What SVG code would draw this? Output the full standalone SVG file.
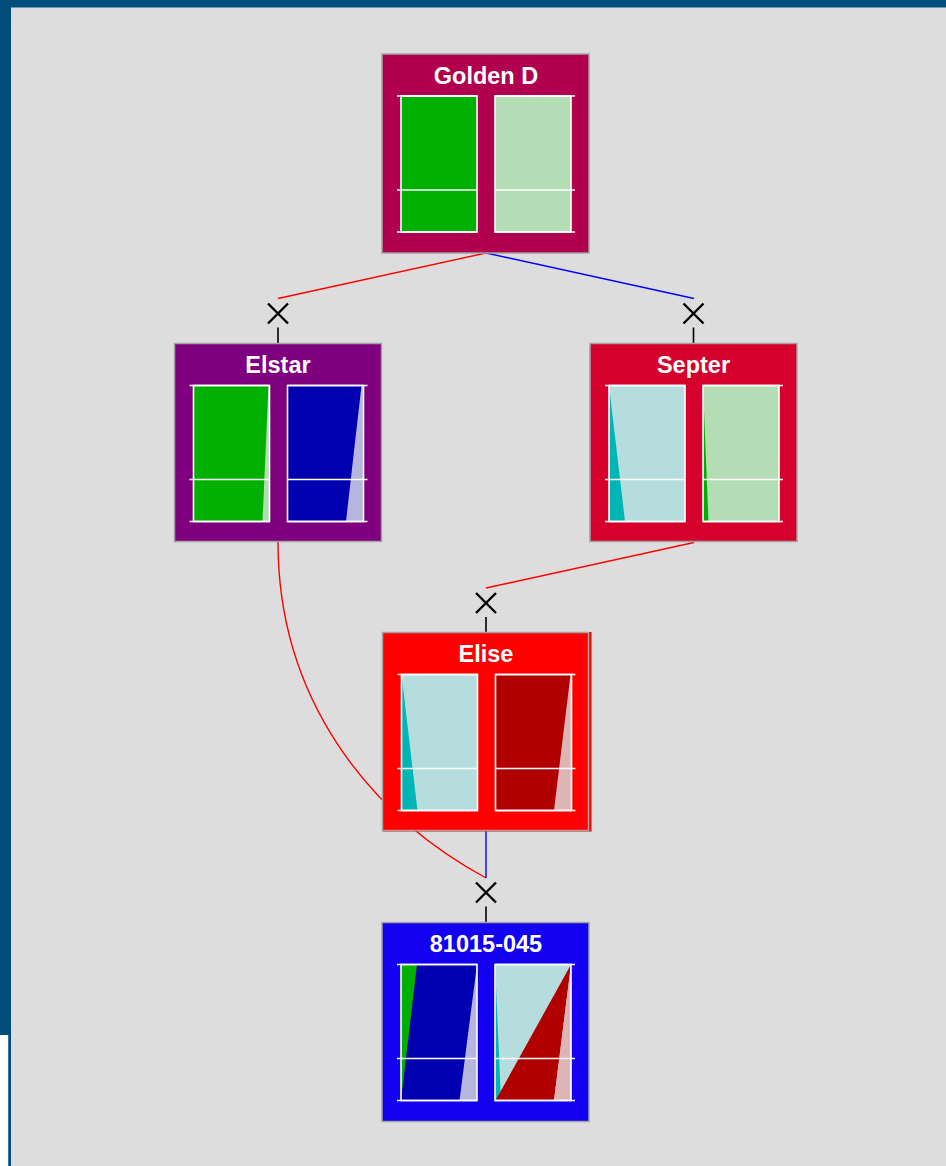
<svg xmlns="http://www.w3.org/2000/svg" width="946" height="1166" viewBox="0 0 946 1166">
<style>
.box{stroke:#A3A3A3;stroke-width:1.5}
.title{font-family:"Liberation Sans",Arial,sans-serif;font-weight:bold;font-size:23.5px;fill:#FFFFFF;text-anchor:middle}
.frame{fill:none;stroke:#FFFFFF;stroke-width:1.6}
.tick{stroke:#FFFFFF;stroke-width:1.6}
.edge{fill:none;stroke-width:1.4}
.cross{stroke:#000000;stroke-width:2.4;fill:none}
.stem{stroke:#000000;stroke-width:1.6}
.g{fill:#00B000}.lg{fill:#B5DDB5}.b{fill:#0000B0}.lb{fill:#B5B5DD}
.c{fill:#00B5B5}.lc{fill:#B5DDDD}.r{fill:#B00000}.lr{fill:#DDB5B5}
</style>
<defs>
<g id="ticks">
<line class="tick" x1="15" y1="42" x2="95" y2="42"/>
<line class="tick" x1="15" y1="136" x2="95" y2="136"/>
<line class="tick" x1="15" y1="178" x2="95" y2="178"/>
<line class="tick" x1="113" y1="42" x2="193" y2="42"/>
<line class="tick" x1="113" y1="136" x2="193" y2="136"/>
<line class="tick" x1="113" y1="178" x2="193" y2="178"/>
<rect class="frame" x="19" y="42" width="76" height="136"/>
<rect class="frame" x="113" y="42" width="76" height="136"/>
</g>
<path id="x" class="cross" d="M-10,-10 L10,10 M10,-10 L-10,10"/>
</defs>
<rect x="0" y="0" width="946" height="1166" fill="#DDDDDD"/>
<rect x="0" y="0" width="946" height="7" fill="#004E7C"/>
<line x1="11" y1="7.5" x2="946" y2="7.5" stroke="#6E97B8" stroke-width="1"/>
<rect x="0" y="0" width="11" height="1035" fill="#004E7C"/>
<rect x="0" y="1035" width="8" height="131" fill="#FFFFFF"/>
<rect x="8" y="1035" width="3" height="131" fill="#004E7C"/>
<line x1="8.5" y1="1035" x2="8.5" y2="1166" stroke="#3D74A0" stroke-width="1"/>

<g id="connectors">
<line class="edge" stroke="#FF0000" x1="486" y1="253" x2="278" y2="298.5"/>
<line class="edge" stroke="#0000FF" x1="486" y1="253" x2="694" y2="298.5"/>
<line class="edge" stroke="#FF0000" x1="694" y1="542.5" x2="486" y2="588"/>
<path class="edge" stroke="#FF0000" d="M278,542 C278,700 370,815 486,878"/>
<line class="edge" stroke="#0000FF" x1="486" y1="831" x2="486" y2="878"/>
<use href="#x" x="278" y="313.5"/>
<line class="stem" x1="278" y1="327.5" x2="278" y2="343.5"/>
<use href="#x" x="693.5" y="313.5"/>
<line class="stem" x1="693.5" y1="327.5" x2="693.5" y2="343.5"/>
<use href="#x" x="486" y="603"/>
<line class="stem" x1="486" y1="617" x2="486" y2="632.5"/>
<use href="#x" x="486" y="892.5"/>
<line class="stem" x1="486" y1="906.5" x2="486" y2="922.5"/>
</g>

<g id="node-golden-d" transform="translate(382,54)">
<rect class="box" x="0" y="0" width="207" height="199" fill="#B0004E"/>
<text class="title" x="104" y="29.5">Golden D</text>
<rect class="g" x="19" y="42" width="76" height="136"/>
<rect class="lg" x="113" y="42" width="76" height="136"/>
<use href="#ticks"/>
</g>

<g id="node-elstar" transform="translate(174.5,343.5)">
<rect class="box" x="0" y="0" width="207" height="198" fill="#7F007F"/>
<text class="title" x="103.5" y="29.5">Elstar</text>
<rect class="g" x="19" y="42" width="76" height="136"/>
<polygon class="lg" points="94,42 95,42 95,178 88,178"/>
<rect class="b" x="113" y="42" width="76" height="136"/>
<polygon class="lb" points="187,42 189,42 189,178 171.5,178"/>
<use href="#ticks"/>
</g>

<g id="node-septer" transform="translate(590,343.5)">
<rect class="box" x="0" y="0" width="207" height="198" fill="#D5002C"/>
<text class="title" x="103.5" y="29.5">Septer</text>
<rect class="lc" x="19" y="42" width="76" height="136"/>
<polygon class="c" points="19,42 19,178 35,178"/>
<rect class="lg" x="113" y="42" width="76" height="136"/>
<polygon class="g" points="113,42 113,178 118.5,178"/>
<use href="#ticks"/>
</g>

<g id="node-elise" transform="translate(382.5,632.5)">
<rect x="0" y="-0.5" width="209" height="199.5" fill="#FF0000"/>
<rect class="box" x="0" y="0" width="206" height="198" fill="#FF0000"/>
<text class="title" x="103.5" y="29.5">Elise</text>
<rect class="lc" x="19" y="42" width="76" height="136"/>
<polygon class="c" points="19,42 19,178 35,178"/>
<rect class="r" x="113" y="42" width="76" height="136"/>
<polygon class="lr" points="188,42 189,42 189,178 171.5,178"/>
<use href="#ticks"/>
</g>

<g id="node-81015-045" transform="translate(382,922.5)">
<rect class="box" x="0" y="0" width="207" height="199" fill="#1200EE"/>
<text class="title" x="104" y="29.5">81015-045</text>
<rect class="b" x="19" y="42" width="76" height="136"/>
<polygon class="g" points="19,42 35,42 19,178"/>
<polygon class="lb" points="95,42 95,178 77.5,178"/>
<rect class="lc" x="113" y="42" width="76" height="136"/>
<polygon class="c" points="113,42 113,178 119,178"/>
<polygon class="r" points="113.5,178 189,42 172,178"/>
<polygon class="lr" points="189,42 189,178 172,178"/>
<use href="#ticks"/>
</g>
</svg>
